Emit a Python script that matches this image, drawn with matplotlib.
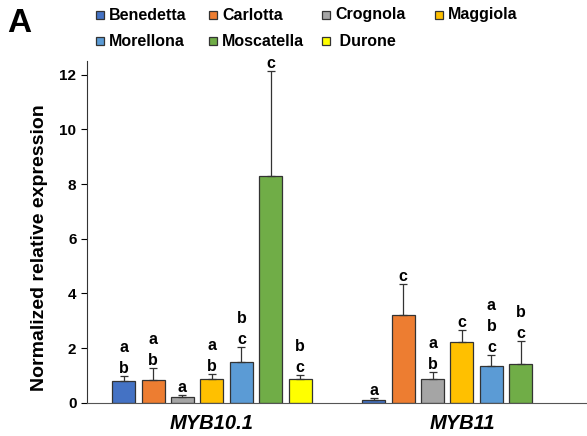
import matplotlib.pyplot as plt
import numpy as np
from matplotlib.patches import Rectangle

plt.rcParams['font.family'] = ['Liberation Sans', 'DejaVu Sans']

genes = ["MYB10.1", "MYB11"]
cultivars = ["Benedetta", "Carlotta", "Crognola", "Maggiola",
             "Morellona", "Moscatella", "Durone"]
colors = ["#4472C4", "#ED7D31", "#A5A5A5", "#FFC000",
          "#5B9BD5", "#70AD47", "#FFFF00"]

# mean values [MYB10.1, MYB11]
means = {
    "Benedetta": [0.80, 0.10],
    "Carlotta": [0.84, 3.21],
    "Crognola": [0.20, 0.89],
    "Maggiola": [0.89, 2.21],
    "Morellona": [1.49, 1.33],
    "Moscatella": [8.31, 1.43],
    "Durone": [0.89, 0.0],
}
# upper error (SD)
errs = {
    "Benedetta": [0.20, 0.07],
    "Carlotta": [0.43, 1.13],
    "Crognola": [0.07, 0.23],
    "Maggiola": [0.16, 0.44],
    "Morellona": [0.55, 0.41],
    "Moscatella": [3.84, 0.84],
    "Durone": [0.13, 0.0],
}
letters = {
    "Benedetta": ["a\nb", "a"],
    "Carlotta": ["a\nb", "c"],
    "Crognola": ["a", "a\nb"],
    "Maggiola": ["a\nb", "c"],
    "Morellona": ["b\nc", "a\nb\nc"],
    "Moscatella": ["c", "b\nc"],
    "Durone": ["b\nc", ""],
}

W, H = 587, 436
fig = plt.figure(figsize=(W / 100, H / 100), dpi=100)
ax = fig.add_axes([0.148, 0.076, 0.852, 0.784])

x = np.arange(len(genes))
step = 0.1176
width = 0.092
for i, c in enumerate(cultivars):
    pos = x + (i - 3) * step
    m = np.array(means[c])
    e = np.array(errs[c])
    show = m > 0
    ax.bar(pos[show], m[show], width, color=colors[i], edgecolor="#333333",
           linewidth=0.9, zorder=2)
    ax.errorbar(pos[show], m[show], yerr=[np.zeros(show.sum()), e[show]],
                fmt='none', ecolor="#333333", elinewidth=0.9, capsize=3,
                capthick=0.9, zorder=3)
    for j in range(len(genes)):
        if letters[c][j]:
            ax.annotate(letters[c][j], (pos[j], m[j] + e[j]), xytext=(0, 0),
                        textcoords='offset points', ha='center', va='bottom',
                        fontsize=11.5, fontweight='bold', linespacing=1.5,
                        annotation_clip=False)

ax.set_xlim(-0.5, 1.5)
ax.set_ylim(0, 12.5)
ax.set_yticks(range(0, 13, 2))
ax.set_xticks(x)
ax.set_xticklabels(genes, fontsize=14.5, fontweight='bold', style='italic')
ax.tick_params(axis='x', length=0, pad=8)
ax.tick_params(axis='y', labelsize=11, length=4, width=0.8, direction='out')
for t in ax.get_yticklabels():
    t.set_fontweight('bold')
ax.spines['top'].set_visible(False)
ax.spines['right'].set_visible(False)
ax.spines['left'].set_color('#333333')
ax.spines['bottom'].set_color('#555555')
ax.set_ylabel("Normalized relative expression", fontsize=14, fontweight='bold')
ax.yaxis.set_label_coords(-0.078, 0.453)

# legend drawn by hand, row by row
col_x = [96, 209, 322, 435]
row_y = [15, 41]
for k, c in enumerate(cultivars):
    r, col = divmod(k, 4)
    px, py = col_x[col], row_y[r]
    fig.add_artist(Rectangle(((px) / W, 1 - (py + 4) / H), 8 / W, 8 / H,
                             facecolor=colors[k], edgecolor="#333333",
                             linewidth=0.9, transform=fig.transFigure))
    lab = c if c != "Durone" else " Durone"
    fig.text((px + 13) / W, 1 - py / H, lab, fontsize=11.5, fontweight='bold',
             va='center', ha='left')

fig.text(0.012, 1 - 23 / H, "A", fontsize=24, fontweight='bold', va='center')

fig.savefig("out.png", dpi=100)
